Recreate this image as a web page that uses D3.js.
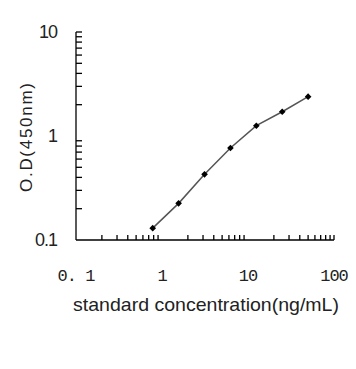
<!DOCTYPE html>
<html><head><meta charset="utf-8">
<script src="https://cdn.jsdelivr.net/npm/d3@7/dist/d3.min.js"></script>
<style>body{margin:0;background:#fff}</style>
</head><body>
<svg id="c" width="356" height="369"></svg>
<script>
const conc = [0.78, 1.56, 3.125, 6.25, 12.5, 25, 50];
const od = [0.13, 0.225, 0.428, 0.767, 1.256, 1.71, 2.39];
const xTickLabels = ["0. 1", "1", "10", "100"];
const xTickValues = [0.1, 1, 10, 100];
const yTickLabels = ["0.1", "1", "10"];
const yTickValues = [0.1, 1, 10];

const svg = d3.select("#c");
const x = d3.scaleLog().domain([0.1, 100]).range([76, 334]);
const y = d3.scaleLog().domain([0.1, 10]).range([240, 32]);

// minor ticks
const xMinor = [];
[0.1, 1, 10].forEach(d => { for (let k = 2; k <= 9; k++) xMinor.push(d * k); });
xMinor.push(100);
const yMinor = [];
[0.1, 1].forEach(d => { for (let k = 2; k <= 9; k++) yMinor.push(d * k); });
yMinor.push(10);

const g = svg.append("g").attr("stroke", "#000").attr("stroke-width", 1.3);
g.append("line").attr("x1", x(0.1)).attr("x2", x(100)).attr("y1", y(0.1)).attr("y2", y(0.1));
g.append("line").attr("x1", x(0.1)).attr("x2", x(0.1)).attr("y1", y(0.1)).attr("y2", y(10));
g.selectAll(".xm").data(xMinor).enter().append("line")
  .attr("x1", d => x(d)).attr("x2", d => x(d)).attr("y1", y(0.1)).attr("y2", y(0.1) - 5);
g.selectAll(".ym").data(yMinor).enter().append("line")
  .attr("y1", d => y(d)).attr("y2", d => y(d)).attr("x1", x(0.1)).attr("x2", x(0.1) + 6);

// y tick labels
svg.selectAll(".yl").data(yTickValues).enter().append("text")
  .attr("x", 57).attr("y", d => y(d)).attr("dy", "0.36em")
  .attr("text-anchor", "end").attr("font-family", "Liberation Sans, Arial, sans-serif")
  .attr("font-size", 18).attr("letter-spacing", -1).attr("fill", "#222")
  .text((d, i) => yTickLabels[i]);

// x tick labels
svg.selectAll(".xl").data(xTickValues).enter().append("text")
  .attr("x", d => x(d)).attr("y", 281)
  .attr("text-anchor", "middle").attr("font-family", "Liberation Mono, monospace")
  .attr("font-size", 17).attr("letter-spacing", -1).attr("fill", "#222")
  .text((d, i) => xTickLabels[i]);

// line
svg.append("path").datum(conc.map((c, i) => [c, od[i]]))
  .attr("fill", "none").attr("stroke", "#555").attr("stroke-width", 1.5)
  .attr("d", d3.line().x(d => x(d[0])).y(d => y(d[1])));
svg.selectAll(".pt").data(conc).enter().append("path")
  .attr("transform", (d, i) => `translate(${x(d)},${y(od[i])}) rotate(45)`)
  .attr("d", d3.symbol().type(d3.symbolSquare).size(22))
  .attr("fill", "#000");

// titles
svg.append("text").attr("x", 206).attr("y", 311).attr("text-anchor", "middle")
  .attr("font-family", "Liberation Sans, Arial, sans-serif").attr("font-size", 19).attr("fill", "#222")
  .attr("textLength", 266).attr("lengthAdjust", "spacingAndGlyphs")
  .text("standard concentration(ng/mL)");
svg.append("text").attr("transform", "translate(32,137.5) rotate(-90)").attr("text-anchor", "middle")
  .attr("font-family", "Liberation Sans, Arial, sans-serif").attr("font-size", 17).attr("fill", "#222")
  .attr("textLength", 109).attr("lengthAdjust", "spacing")
  .text("O.D(450nm)");
</script>
</body></html>
